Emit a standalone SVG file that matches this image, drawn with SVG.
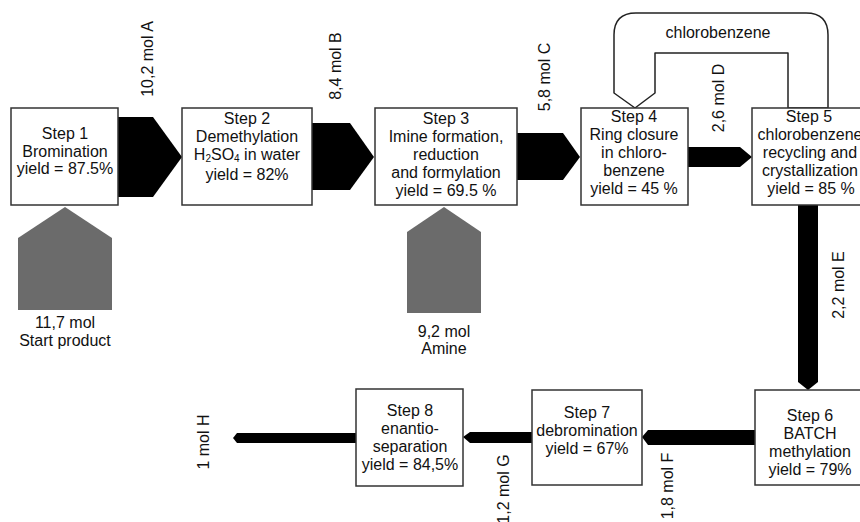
<svg xmlns="http://www.w3.org/2000/svg" width="860" height="522" viewBox="0 0 860 522">
<style>
.box{fill:#fff;stroke:#333;stroke-width:1.5}
.t{font-family:"Liberation Sans",Arial,sans-serif;font-size:16px;fill:#111;text-anchor:middle}
.sub{font-size:10px;baseline-shift:-2px}
.blk{fill:#000}
.gry{fill:#6b6b6b}
.loop{fill:#fff;stroke:#222;stroke-width:1.5;stroke-linejoin:round}
</style>
<rect width="860" height="522" fill="#fff"/>
<g id="connectors">
<polygon class="blk" points="118,117 153,117 182,157 153,197 118,197"/>
<polygon class="blk" points="312,123 350,123 374,157 350,190 312,190"/>
<polygon class="blk" points="517,133 563,133 580,157 563,180 517,180"/>
<polygon class="blk" points="688,147 740,147 752,157 740,167 688,167"/>
<polygon class="blk" points="798,205 818,205 818,382 808,390 798,382"/>
<polygon class="blk" points="755,430 755,445 648,445 642,437 648,430"/>
<polygon class="blk" points="532,432 532,443 470,443 463,437 470,432"/>
<polygon class="blk" points="356,433 356,443 237,443 233,438 237,433"/>
<polygon class="gry" points="18,238 65,207 112,238 112,310 18,310"/>
<polygon class="gry" points="407,232 444,207 481,232 481,313 407,313"/>
<path class="loop" d="M635,108 L655,93 L655,53 L788,53 L788,108 L828,108 L828,35 Q828,13 806,13 L636,13 Q614,13 614,35 L614,93 Z"/>
<text class="t" x="718" y="38">chlorobenzene</text>
<text class="t" transform="translate(153,59) rotate(-90)">10,2 mol A</text>
<text class="t" transform="translate(341,66) rotate(-90)">8,4 mol B</text>
<text class="t" transform="translate(550,77) rotate(-90)">5,8 mol C</text>
<text class="t" transform="translate(724,98) rotate(-90)">2,6 mol D</text>
<text class="t" transform="translate(844,285) rotate(-90)">2,2 mol E</text>
<text class="t" transform="translate(673,486) rotate(-90)">1,8 mol F</text>
<text class="t" transform="translate(509,489) rotate(-90)">1,2 mol G</text>
<text class="t" transform="translate(209,442) rotate(-90)">1 mol H</text>
<text class="t" x="65" y="328">11,7 mol</text>
<text class="t" x="65" y="346">Start product</text>
<text class="t" x="444" y="337">9,2 mol</text>
<text class="t" x="444" y="354">Amine</text>
</g>
<g id="step1">
<rect class="box" x="11" y="108" width="107" height="97"/>
<text class="t" x="65" y="139">Step 1</text>
<text class="t" x="65" y="157">Bromination</text>
<text class="t" x="65" y="174">yield = 87.5%</text>
</g>
<g id="step2">
<rect class="box" x="182" y="108" width="130" height="97"/>
<text class="t" x="247" y="124">Step 2</text>
<text class="t" x="247" y="142">Demethylation</text>
<text class="t" x="247" y="160">H<tspan class="sub">2</tspan>SO<tspan class="sub">4</tspan> in water</text>
<text class="t" x="247" y="180">yield = 82%</text>
</g>
<g id="step3">
<rect class="box" x="375" y="108" width="142" height="97"/>
<text class="t" x="446" y="124">Step 3</text>
<text class="t" x="446" y="142">Imine formation,</text>
<text class="t" x="446" y="160">reduction</text>
<text class="t" x="446" y="178">and formylation</text>
<text class="t" x="446" y="196">yield = 69.5 %</text>
</g>
<g id="step4">
<rect class="box" x="581" y="108" width="107" height="97"/>
<text class="t" x="634" y="122">Step 4</text>
<text class="t" x="634" y="140">Ring closure</text>
<text class="t" x="634" y="158">in chloro-</text>
<text class="t" x="634" y="176">benzene</text>
<text class="t" x="634" y="194">yield = 45 %</text>
</g>
<g id="step5">
<rect class="box" x="752" y="108" width="120" height="97"/>
<text class="t" x="809" y="122">Step 5</text>
<text class="t" x="810" y="140">chlorobenzene</text>
<text class="t" x="810" y="158">recycling and</text>
<text class="t" x="810" y="176">crystallization</text>
<text class="t" x="811" y="194">yield = 85 %</text>
</g>
<g id="step6">
<rect class="box" x="755" y="390" width="115" height="95"/>
<text class="t" x="810" y="421">Step 6</text>
<text class="t" x="810" y="439">BATCH</text>
<text class="t" x="810" y="457">methylation</text>
<text class="t" x="810" y="475">yield = 79%</text>
</g>
<g id="step7">
<rect class="box" x="532" y="390" width="110" height="95"/>
<text class="t" x="587" y="418">Step 7</text>
<text class="t" x="587" y="436">debromination</text>
<text class="t" x="587" y="454">yield = 67%</text>
</g>
<g id="step8">
<rect class="box" x="356" y="389" width="107" height="97"/>
<text class="t" x="410" y="416">Step 8</text>
<text class="t" x="410" y="434">enantio-</text>
<text class="t" x="410" y="452">separation</text>
<text class="t" x="410" y="470">yield = 84,5%</text>
</g>
</svg>
